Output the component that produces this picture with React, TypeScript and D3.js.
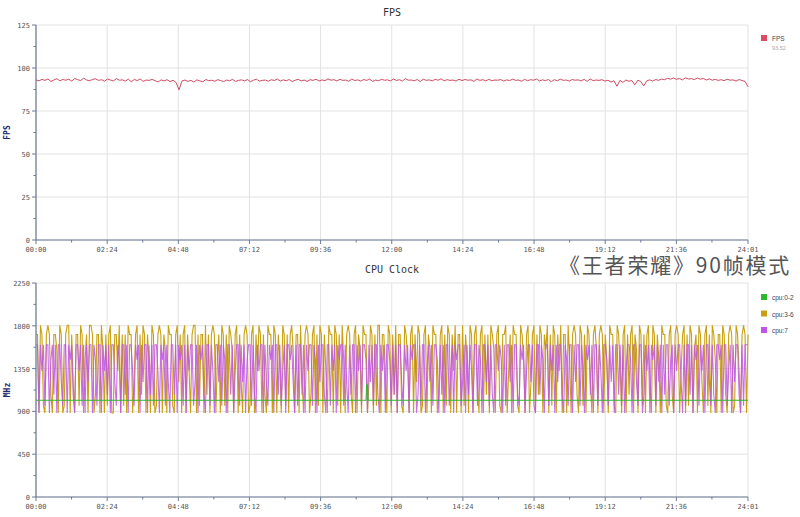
import React from "react";
import * as d3 from "d3";

const xTickLabels = ["00:00","02:24","04:48","07:12","09:36","12:00","14:24","16:48","19:12","21:36","24:01"];
const xTickSeconds = [0,144,288,432,576,720,864,1008,1152,1296,1441];
const DURATION = 1441;

const fpsTicks = [0,25,50,75,100,125];
const cpuTicks = [0,450,900,1350,1800,2250];

const fpsValues = [
93.1,92.5,93.4,92.8,93.6,92.2,93.0,93.8,92.6,93.3,
92.9,93.5,92.4,93.9,93.2,92.7,94.1,93.0,92.6,93.4,
93.7,92.8,93.2,92.3,93.6,93.0,92.5,93.8,92.9,93.1,
92.4,93.5,92.0,93.3,92.7,93.6,92.2,93.0,92.8,93.4,
92.6,91.9,93.1,92.5,93.2,92.1,92.9,91.6,87.3,92.4,
93.0,92.2,92.8,91.8,93.1,92.5,92.0,93.3,92.6,92.9,
92.3,93.2,92.7,92.1,93.0,92.6,93.4,92.2,92.8,93.1,
92.5,93.3,92.0,92.9,93.5,92.4,92.8,93.0,92.3,93.2,
92.7,93.6,92.4,93.1,92.6,93.3,92.1,92.9,93.4,92.5,
93.0,92.2,93.2,92.8,93.5,92.4,93.1,92.6,93.7,92.9,
93.2,92.5,93.4,92.8,93.0,92.3,93.6,92.7,93.1,92.4,
93.3,92.8,93.5,92.2,93.0,92.6,93.4,92.9,93.1,92.5,
93.6,92.7,93.2,92.4,93.8,92.9,93.0,92.6,93.3,92.1,
93.5,92.8,93.1,92.5,93.4,92.9,93.7,92.6,93.2,92.8,
93.0,92.4,93.5,92.7,93.3,92.9,93.1,92.2,93.6,92.8,
93.2,92.5,93.4,92.6,93.0,92.9,93.3,92.4,93.1,92.7,
93.5,92.8,93.0,92.3,93.4,92.6,93.2,92.9,93.6,92.5,
93.1,92.7,93.3,92.0,93.2,92.6,93.5,92.8,93.0,92.4,
93.3,92.9,93.1,92.5,93.4,92.2,93.6,92.7,93.0,92.8,
93.2,92.4,92.9,91.8,92.6,89.4,92.8,91.6,93.0,92.3,
92.7,90.2,92.9,92.1,89.6,92.5,93.1,92.4,93.3,92.8,
93.6,93.2,94.0,93.5,94.2,93.4,93.9,93.1,94.3,93.6,
93.8,93.3,94.1,93.5,93.9,93.0,93.7,92.9,93.4,92.8,
93.2,92.6,93.5,92.9,93.1,92.4,93.3,92.7,92.2,89.1
];

const cpu02Times = [0, 668, 669, 671, 672, 1441];
const cpu02Values = [1017, 1017, 1180, 1180, 1017, 1017];

const cpu36Values = [
1709,1709,883,1805,1709,960,883,1709,1805,1709,1075,883,1709,1709,1555,883,1805,1709,883,960,
1709,1805,1805,883,1709,1209,883,1709,1709,960,1805,1709,883,1440,1709,883,1805,1805,1709,883,
1075,1709,1709,883,1805,1555,883,1709,960,1709,1805,883,883,1709,1709,1325,1805,883,1709,960,
1709,883,1805,1709,1709,883,1209,1709,1805,883,1709,1075,1805,1709,883,1709,1440,883,1805,1709,
883,960,1709,1805,1709,883,1709,1555,883,1805,1709,1709,960,883,1709,1805,1209,1709,883,1709,
1805,883,1709,1325,883,1709,1805,1805,883,1709,960,1709,1709,883,1805,1075,1709,883,1709,1805,
1709,883,1440,1709,883,1805,1709,960,1709,883,1805,1709,1555,883,1709,1805,883,1709,1209,883,
1709,1805,1709,883,960,1709,1805,883,1709,1325,1805,1709,883,1709,1075,883,1805,1709,1709,883,
1805,1709,883,1709,1440,883,1805,1709,960,1709,883,1709,1805,1555,883,1709,1709,883,1805,1209,
883,1709,1805,1709,883,1075,1709,1805,883,1709,960,1805,1709,883,1709,1325,883,1805,1709,1709,
883,1805,1709,960,1709,883,1805,1440,883,1709,1805,1709,1075,883,1709,1805,883,1709,1555,883,
1805,1709,1709,883,1209,1805,1709,883,1709,960,1805,1805,883,1709,1709,1325,883,1805,1709,883,
1709,1075,1805,883,1709,1709,960,883,1805,1709,1440,883,1709,1805,883,1709,1209,1805,1709,883,
960,1709,1805,883,1709,1555,883,1805,1709,1709,883,1075,1709,1805,883,1709,960,1805,1709,883,
1709,1325,1805,883,1709,1709,883,1805,960,1709,1440,883,1805,1709,883,1709,1805,1209,883,1709,
1805,883,1709,1075,1709,883,1805,1709,1555,883,1709,1805,960,883,1709,1709,1805,883,1325,1709,
883,1805,1709,1709,960,883,1805,1709,1440,883,1709,1805,883,1209,1709,1805,883,1709,1075,1805,
1709,883,1709,1555,1805,883,1709,960,1805,1709,883,1709,1325,1805,883,1709,1709,883,1805,1440,
883,1709,1805,1709,1075,883,1805,1709,960,1709,883,1805,1709,1209,883,1709,1805,1555,883,1709,
1805,1709,883,1709,1440,883,1805,1709,1709,960,883,1805,1709,1325,883,1709,1805,883,1709,1075,
1709,1805,883,1709,1555,883,1805,1709,960,1709,883,1709,1805,1209,883,1805,1709,883,1709,1440,
883,1805,1709,1709,960,883,1709,1805,1075,883,1709,1805,1709,883,1325,1709,1805,883,1709,960,
1805,1709,883,1555,1709,883,1805,1709,1209,883,1709,1805,960,1709,883,1805,1709,1440,883,1709,
1709,883,1805,1709,1075,883,1709,1805,1709,883,960,1805,1709,1325,883,1709,1805,1709,883,1709
];

const cpu7Values = [
1600,1600,883,1600,1325,1600,960,1600,1600,883,1440,1600,1075,1600,883,1600,1600,1209,960,1600,
1600,883,1600,1440,1600,1075,883,1600,1600,1325,1600,960,1600,883,1600,1209,1600,1600,883,1600,
1440,960,1600,1600,883,1600,1325,1600,1075,1600,883,1600,1600,1209,960,1600,1440,883,1600,1600,
1075,1600,883,1600,1600,1325,960,1600,1440,1600,883,1600,1209,1600,1600,883,1600,1075,1600,960,
1600,1600,1325,883,1600,1440,1600,960,1600,1209,883,1600,1600,1075,1600,883,1600,1440,1600,960,
1600,883,1600,1325,1600,1600,960,1209,1600,883,1600,1440,1600,1075,883,1600,1600,960,1600,1325,
883,1600,1600,1209,1600,960,1600,1440,883,1600,1600,1075,1600,883,1325,1600,1600,960,1600,1209,
1600,883,1440,1600,1600,960,1600,1075,883,1600,1325,1600,1600,883,1600,1209,960,1600,1440,1600,
883,1600,1600,1075,1600,960,1325,1600,883,1600,1600,1440,1600,1209,883,1600,960,1600,1600,1075,
1600,883,1600,1325,1600,1600,960,1600,1440,883,1600,1209,1600,1600,1075,883,1600,1600,960,1600,
1325,1600,883,1600,1440,1600,1600,960,1600,1209,883,1600,1075,1600,1600,883,1600,1325,1600,960,
1600,1600,1440,883,1600,1209,1600,960,1600,1600,1075,883,1600,1325,1600,883,1600,1600,1440,960,
1600,1075,1600,883,1600,1600,1209,960,1600,1325,1600,883,1600,1440,1600,1600,883,1075,1600,960,
1600,1600,883,1325,1600,1209,1600,960,1600,1600,1440,883,1600,1075,1600,883,1600,1600,960,1325,
1600,883,1600,1440,1600,1600,960,1209,1600,883,1600,1075,1600,1325,883,1600,1600,960,1600,1440,
883,1600,1600,1209,1600,960,1600,1075,883,1600,1600,1325,1600,1440,883,1600,960,1600,1600,1209,
1600,883,1600,1600,1075,960,1600,1440,1600,883,1325,1600,1600,1209,1600,960,883,1600,1600,1075,
1600,1440,883,1600,1600,960,1600,1325,1600,883,1600,1209,1600,1600,1075,883,1600,1440,960,1600,
1600,883,1600,1209,1600,1600,960,1600,1325,883,1600,1440,1600,1075,1600,883,1600,1600,960,1600,
1325,883,1600,1600,1440,960,1600,1209,1600,883,1600,1600,1075,1600,960,1600,883,1325,1600,1600,
1440,883,1600,1600,1209,960,1600,1600,883,1075,1600,1325,1600,883,1600,1440,1600,960,1600,1209,
1600,883,1600,1075,1600,1600,960,1440,1600,883,1600,1325,1600,1600,1209,883,1600,960,1600,1600,
1075,1600,883,1600,1440,1600,960,1600,1325,1600,883,1600,1600,1209,960,1600,1075,883,1600,1600,
1440,1600,883,1600,1600,960,1325,1600,883,1600,1209,1600,1600,1075,883,1600,960,1600,1600,1600
];

const fpsLegend = { name: "FPS", avg: "93.52", color: "#e04a64" };
const cpuLegend = [
  { name: "cpu:0-2", color: "#2eb82e" },
  { name: "cpu:3-6", color: "#c9a012" },
  { name: "cpu:7", color: "#bf55e8" },
];

const X0 = 36, X1 = 748;
const AXIS = "#6b7b98";
const GRID = "#e2e2e2";
const MONO = "'DejaVu Sans Mono', 'Liberation Mono', monospace";
const SANS = "'Liberation Sans', Arial, sans-serif";

type Pt = { t: number; v: number };

function xs(vals: number[]): Pt[] {
  const n = vals.length;
  return vals.map((v, i) => ({ t: (i / (n - 1)) * DURATION, v }));
}

function Panel(props: {
  top: number; bottom: number; ticks: number[]; title: string; titleY: number; yLabel: string;
  children: (x: d3.ScaleLinear<number, number>, y: d3.ScaleLinear<number, number>) => React.ReactNode;
}) {
  const { top, bottom, ticks, title, titleY, yLabel } = props;
  const x = d3.scaleLinear().domain([0, DURATION]).range([X0, X1]);
  const y = d3.scaleLinear().domain([ticks[0], ticks[ticks.length - 1]]).range([bottom, top]);
  const step = ticks[1] - ticks[0];
  const minorY = ticks.slice(0, -1).map((t) => t + step / 2);
  const minorX = xTickSeconds.slice(0, -1).map((t) => t + 72).filter((t) => t < DURATION);
  return (
    <g>
      {ticks.map((t) => (
        <line key={"gy" + t} x1={X0} x2={X1} y1={y(t)} y2={y(t)} stroke={GRID} strokeWidth={1} />
      ))}
      {xTickSeconds.map((t) => (
        <line key={"gx" + t} x1={x(t)} x2={x(t)} y1={top} y2={bottom} stroke={GRID} strokeWidth={1} />
      ))}
      {props.children(x, y)}
      <line x1={X0} x2={X0} y1={top} y2={bottom} stroke={AXIS} strokeWidth={1.2} />
      <line x1={X0} x2={X1} y1={bottom} y2={bottom} stroke={AXIS} strokeWidth={1.2} />
      {ticks.map((t) => (
        <g key={"ty" + t}>
          <line x1={X0 - 4} x2={X0} y1={y(t)} y2={y(t)} stroke={AXIS} />
          <text x={X0 - 6} y={y(t) + 3} fontSize={7} textAnchor="end" fill="#555" fontFamily={MONO}>{t}</text>
        </g>
      ))}
      {minorY.map((t) => (
        <line key={"my" + t} x1={X0 - 2.5} x2={X0} y1={y(t)} y2={y(t)} stroke={AXIS} />
      ))}
      {xTickSeconds.map((t, i) => (
        <g key={"tx" + t}>
          <line x1={x(t)} x2={x(t)} y1={bottom} y2={bottom + 4} stroke={AXIS} />
          <text x={x(t)} y={bottom + 12} fontSize={7} textAnchor="middle" fill="#555" fontFamily={MONO}>{xTickLabels[i]}</text>
        </g>
      ))}
      {minorX.map((t) => (
        <line key={"mx" + t} x1={x(t)} x2={x(t)} y1={bottom} y2={bottom + 2.5} stroke={AXIS} />
      ))}
      <text x={(X0 + X1) / 2} y={titleY} fontSize={10} textAnchor="middle" fill="#333" fontFamily={MONO}>{title}</text>
      <text transform={`translate(10,${(top + bottom) / 2}) rotate(-90)`} fontSize={8} fontWeight="bold" textAnchor="middle" fill="#1c2a6e" fontFamily={MONO}>{yLabel}</text>
    </g>
  );
}

export default function App() {
  const fpsData = xs(fpsValues);
  const c02: Pt[] = cpu02Times.map((t, i) => ({ t, v: cpu02Values[i] }));
  const c36 = xs(cpu36Values);
  const c7 = xs(cpu7Values);
  return (
    <svg width={800} height={517} style={{ position: "fixed", left: 0, top: 0, background: "#fff" }} fontFamily={MONO}>
      <rect x={0} y={0} width={800} height={517} fill="#fff" />
      <Panel top={25} bottom={240} ticks={fpsTicks} title="FPS" titleY={16} yLabel="FPS">
        {(x, y) => {
          const line = d3.line<Pt>().x((d) => x(d.t)).y((d) => y(d.v));
          return <path d={line(fpsData) || ""} fill="none" stroke="#c8384f" strokeWidth={0.9} />;
        }}
      </Panel>
      <Panel top={283} bottom={497} ticks={cpuTicks} title="CPU Clock" titleY={273} yLabel="MHz">
        {(x, y) => {
          const line = d3.line<Pt>().x((d) => x(d.t)).y((d) => y(d.v));
          return (
            <g>
              <path d={line(c36) || ""} fill="none" stroke={cpuLegend[1].color} strokeWidth={1.1} />
              <path d={line(c7) || ""} fill="none" stroke={cpuLegend[2].color} strokeWidth={1.1} strokeOpacity={0.85} />
              <path d={line(c02) || ""} fill="none" stroke={cpuLegend[0].color} strokeWidth={1} />
            </g>
          );
        }}
      </Panel>
      <rect x={761} y={35} width={6} height={6} fill={fpsLegend.color} />
      <text x={772} y={41} fontSize={6.5} fill="#445" fontFamily={SANS}>{fpsLegend.name}</text>
      <text x={772} y={49.5} fontSize={5.5} fill="#aaa" fontFamily={SANS}>{fpsLegend.avg}</text>
      {cpuLegend.map((s, i) => (
        <g key={s.name}>
          <rect x={761} y={294 + i * 16.5} width={6} height={6} fill={s.color} />
          <text x={772} y={300 + i * 16.5} fontSize={6.5} fill="#445" fontFamily={SANS}>{s.name}</text>
        </g>
      ))}
      <text x={559} y={273} fontSize={21} letterSpacing={1.8} fill="#555" fontFamily="'Noto Sans CJK SC', sans-serif">《王者荣耀》90帧模式</text>
    </svg>
  );
}
